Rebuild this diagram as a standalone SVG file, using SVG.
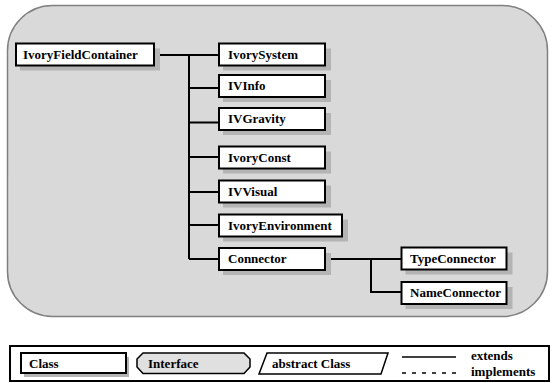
<svg xmlns="http://www.w3.org/2000/svg" width="552" height="383" viewBox="0 0 552 383">
  <style>
    .box { fill: #ffffff; stroke: #000000; stroke-width: 2; }
    .shadow { fill: #b4b4b4; }
    .edge { fill: none; stroke: #000000; stroke-width: 2; }
  </style>
  <rect width="552" height="383" fill="#ffffff"/>

  <!-- package area -->
  <rect id="package" x="7.5" y="5.5" width="540" height="311" rx="45" ry="45" fill="#d9d9d9" stroke="#808080" stroke-width="1.5"/>

  <!-- inheritance connectors -->
  <g id="connectors">
    <path class="edge" d="M155 55 H218 M189 55 V259 M189 88 H218 M189 122.5 H218 M189 157 H218 M189 192 H218 M189 225 H218 M189 259 H218"/>
    <path class="edge" d="M326 259 H401 M371 259 V292 H401"/>
  </g>

  <g font-family="Liberation Serif, DejaVu Serif, serif" font-weight="bold" font-size="13" fill="#000000">
  <g id="IvoryFieldContainer">
    <rect class="shadow" x="20" y="48.5" width="140" height="22"/>
    <rect class="box" x="16" y="43.5" width="138" height="22"/>
    <text x="23" y="58.5">IvoryFieldContainer</text>
  </g>
  <g id="IvorySystem">
    <rect class="shadow" x="223" y="48.5" width="108" height="22"/>
    <rect class="box" x="219" y="43.5" width="106" height="22"/>
    <text x="228" y="58.5">IvorySystem</text>
  </g>
  <g id="IVInfo">
    <rect class="shadow" x="223" y="80" width="108" height="22"/>
    <rect class="box" x="219" y="75" width="106" height="22"/>
    <text x="228" y="90">IVInfo</text>
  </g>
  <g id="IVGravity">
    <rect class="shadow" x="223" y="113" width="108" height="22"/>
    <rect class="box" x="219" y="108" width="106" height="22"/>
    <text x="228" y="123">IVGravity</text>
  </g>
  <g id="IvoryConst">
    <rect class="shadow" x="223" y="151.5" width="108" height="22"/>
    <rect class="box" x="219" y="146.5" width="106" height="22"/>
    <text x="228" y="161.5">IvoryConst</text>
  </g>
  <g id="IVVisual">
    <rect class="shadow" x="223" y="185.5" width="108" height="22"/>
    <rect class="box" x="219" y="180.5" width="106" height="22"/>
    <text x="228" y="195.5">IVVisual</text>
  </g>
  <g id="IvoryEnvironment">
    <rect class="shadow" x="223" y="219.5" width="125" height="22"/>
    <rect class="box" x="219" y="214.5" width="123" height="22"/>
    <text x="228" y="229.5">IvoryEnvironment</text>
  </g>
  <g id="Connector">
    <rect class="shadow" x="223" y="253" width="108" height="22"/>
    <rect class="box" x="219" y="248" width="106" height="22"/>
    <text x="228" y="263">Connector</text>
  </g>
  <g id="TypeConnector">
    <rect class="shadow" x="405.5" y="252.5" width="107" height="22"/>
    <rect class="box" x="401.5" y="247.5" width="105" height="22"/>
    <text x="410" y="262.5">TypeConnector</text>
  </g>
  <g id="NameConnector">
    <rect class="shadow" x="405.5" y="287" width="107" height="22"/>
    <rect class="box" x="401.5" y="282" width="105" height="22"/>
    <text x="410" y="297">NameConnector</text>
  </g>

  <!-- legend -->
  <g id="legend">
    <rect x="10" y="346" width="539" height="35" fill="#ffffff" stroke="#000000" stroke-width="2"/>
    <rect class="shadow" x="24" y="357" width="105" height="20"/>
    <rect class="box" x="21" y="353" width="105" height="20"/>
    <text x="29" y="367.5">Class</text>
    <path d="M143 353 H244 L250 359 V367 L244 373.5 H143 L137 367 V359 Z" fill="#e0e0e0" stroke="#000000" stroke-width="1.5"/>
    <text x="148" y="367.5">Interface</text>
    <path d="M267 353 H388 L381 374 H259 Z" fill="#ffffff" stroke="#000000" stroke-width="1.5"/>
    <text x="272" y="367.5">abstract Class</text>
    <line x1="402" y1="357" x2="456" y2="357" stroke="#000000" stroke-width="1.5"/>
    <line x1="402" y1="373" x2="456" y2="373" stroke="#000000" stroke-width="1.5" stroke-dasharray="4 6"/>
    <text x="471" y="360">extends</text>
    <text x="471" y="376">implements</text>
  </g>
  </g>
</svg>
